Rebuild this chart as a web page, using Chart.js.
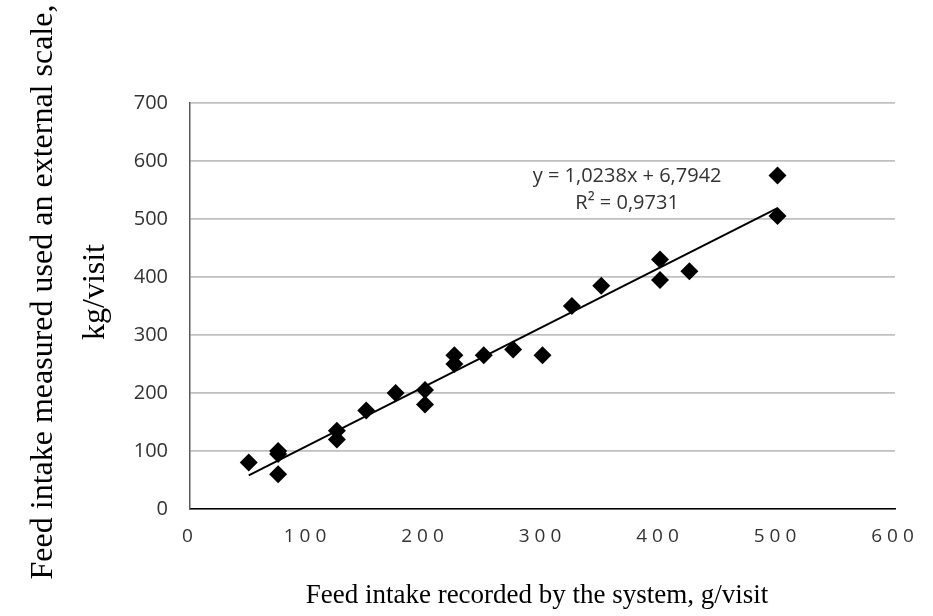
<!DOCTYPE html>
<html>
<head>
<meta charset="utf-8">
<script src="https://cdn.jsdelivr.net/npm/chart.js@4"></script>
<style>
  body { margin: 0; background: #fff; }
</style>
</head>
<body>
<canvas id="chartFeed" width="933" height="616"></canvas>
<script>
// Datos
const recordedG = [50, 75, 75, 75, 125, 125, 150, 175, 200, 200, 225, 225, 250, 275, 300, 325, 350, 400, 400, 425, 500, 500];
const measuredG = [80, 100, 95, 60, 135, 120, 170, 200, 205, 180, 265, 250, 265, 275, 265, 350, 385, 430, 395, 410, 575, 505];
const xTicks = [0, 100, 200, 300, 400, 500, 600];
const yTicks = [0, 100, 200, 300, 400, 500, 600, 700];

// Línea de tendencia (Excel)
const slope = 1.0238;
const intercept = 6.7942;
const trendFrom = 50;
const trendTo = 500;
const equationLines = ['y = 1,0238x + 6,7942', 'R\u00B2 = 0,9731'];

const xTitle = 'Feed intake recorded by the system, g/visit';
const yTitle = ['Feed intake measured used an external scale,', 'kg/visit'];

const points = recordedG.map((x, i) => ({ x: x, y: measuredG[i] }));
const trend = [trendFrom, trendTo].map(x => ({ x: x, y: slope * x + intercept }));

// Títulos de ejes y ecuación
const textPlugin = {
    id: 'textos',
    afterDraw(chart) {
        const ctx = chart.ctx;
        const xs = chart.scales.x;
        const ys = chart.scales.y;
        ctx.save();
        ctx.fillStyle = '#000';
        ctx.textAlign = 'center';
        ctx.textBaseline = 'middle';
        ctx.font = '27px "Liberation Serif"';
        ctx.fillText(xTitle, 537, 596);

        ctx.font = '32px "Liberation Serif"';
        ctx.translate(44, 292);
        ctx.rotate(-Math.PI / 2);
        ctx.fillText(yTitle[0], 0, 0);
        ctx.fillText(yTitle[1], 0, 52);
        ctx.restore();

        ctx.save();
        ctx.fillStyle = '#333';
        ctx.textAlign = 'center';
        ctx.textBaseline = 'middle';
        ctx.font = '20px "Open Sans"';
        const ex = xs.getPixelForValue(372);
        ctx.fillText(equationLines[0], ex, ys.getPixelForValue(573));
        ctx.fillText(equationLines[1], ex, ys.getPixelForValue(527));
        ctx.restore();
    }
};

const ctx = document.getElementById('chartFeed').getContext('2d');
new Chart(ctx, {
    type: 'scatter',
    data: {
        datasets: [{
            type: 'line',
            label: 'Tendencia',
            data: trend,
            borderColor: '#000',
            borderWidth: 2,
            pointRadius: 0,
            fill: false
        }, {
            label: 'Consumo',
            data: points,
            pointStyle: 'rectRot',
            pointRadius: 9,
            pointHoverRadius: 9,
            backgroundColor: '#000',
            borderColor: '#000',
            borderWidth: 0
        }]
    },
    options: {
        responsive: false,
        animation: false,
        layout: {
            padding: { top: 103, right: 38, left: 0, bottom: 0 }
        },
        plugins: {
            legend: { display: false },
            tooltip: { enabled: false }
        },
        scales: {
            x: {
                type: 'linear',
                min: 0,
                max: 600,
                afterBuildTicks: (scale) => { scale.ticks = xTicks.map(v => ({ value: v })); },
                afterFit: (scale) => {
                    scale.height = 107;
                    // etiquetas espaciadas como en el original
                    if (!scale._espaciado) {
                        const draw = scale.draw;
                        scale.draw = function (area) {
                            this.ctx.save();
                            this.ctx.letterSpacing = '5px';
                            draw.call(this, area);
                            this.ctx.restore();
                        };
                        scale._espaciado = true;
                    }
                },
                grid: { display: false, drawTicks: false },
                border: { display: true, color: '#000', width: 1.5 },
                ticks: {
                    padding: 16,
                    color: '#333',
                    font: { family: 'Open Sans', size: 19 }
                }
            },
            y: {
                min: 0,
                max: 700,
                afterBuildTicks: (scale) => { scale.ticks = yTicks.map(v => ({ value: v })); },
                afterFit: (scale) => { scale.width = 190; },
                grid: { color: '#c0c0c0', lineWidth: 1.8, drawTicks: false },
                border: { display: true, color: '#595959', width: 1.5 },
                ticks: {
                    padding: 22,
                    color: '#333',
                    font: { family: 'Open Sans', size: 20 }
                }
            }
        }
    },
    plugins: [textPlugin]
});
</script>
</body>
</html>
